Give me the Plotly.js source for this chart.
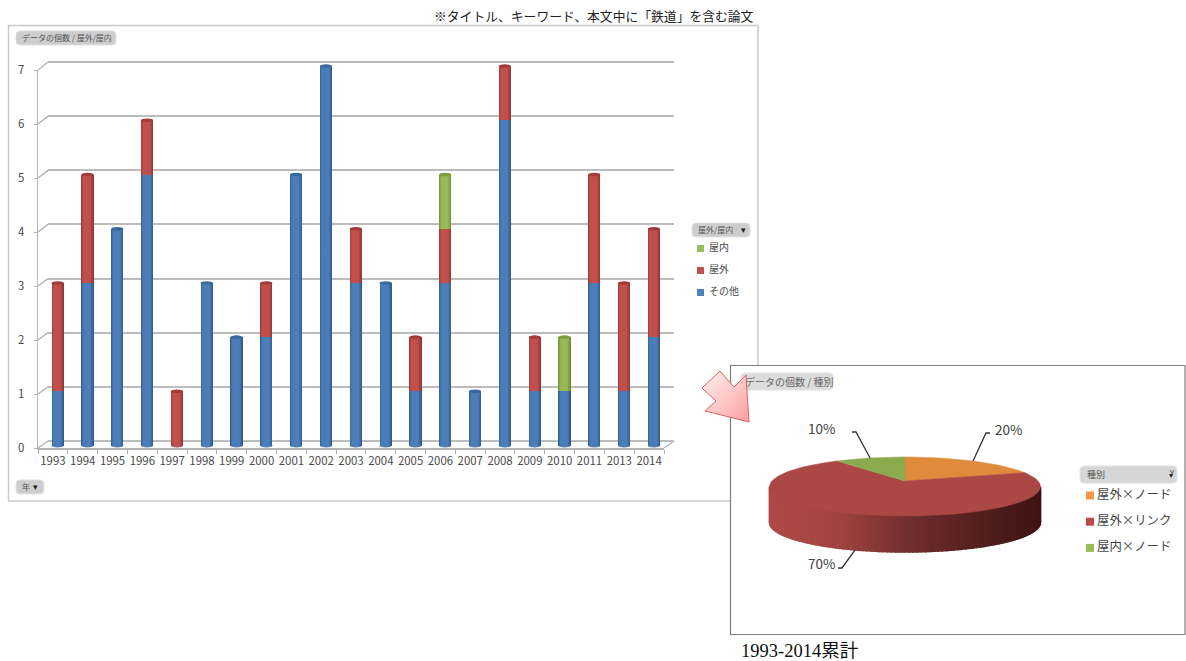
<!DOCTYPE html>
<html lang="ja">
<head>
<meta charset="utf-8">
<title>鉄道 論文</title>
<script src="https://cdn.plot.ly/plotly-3.0.1.min.js"></script>
<style>html,body{margin:0;padding:0;background:#fff}#chart{width:1186px;height:661px}</style>
</head>
<body>
<div id="chart"></div>
<script>
// Papers per year, split by setting
const years = ['1993','1994','1995','1996','1997','1998','1999','2000','2001','2002','2003','2004','2005','2006','2007','2008','2009','2010','2011','2013','2014'];
const other   = [1,3,4,5,0,3,2,2,5,7,3,3,1,3,1,6,1,1,3,1,2];
const outdoor = [2,2,0,1,1,0,0,1,0,0,1,0,1,1,0,1,1,0,2,2,2];
const indoor  = [0,0,0,0,0,0,0,0,0,0,0,0,0,1,0,0,0,1,0,0,0];
const barNames = ['その他','屋外','屋内'];
const yTicks = [0,1,2,3,4,5,6,7];

// Cumulative share by type, 1993-2014
const pieLabels = ['屋外×ノード','屋外×リンク','屋内×ノード'];
const pieShares = [20,70,10];

const W = 1186, H = 661;
const FONT = '"Noto Sans CJK JP","Noto Sans",sans-serif';
const TEXT = '#4a4a4a';
const AXIS = '#b4b4b4';
const barColors = ['#4f81bd', '#c0504d', '#9bbb59'];
const capColors = ['#39689f', '#a23c3a', '#7d9c40'];
const pieColors = ['#e08a3c', '#ab4744', '#8cab4e'];

const fx = x => x / W;
const fy = y => 1 - y / H;
const stacks = [other, outdoor, indoor];

// Axis frames, in pixels of the page
const wall  = {x0: 48,    x1: 674,   y0: 441,   unit: 54.14, pad: 0.1};
const bars  = {x0: 42.8,  x1: 668.8, y0: 445.5, unit: 54.2,  pad: 0.15};
const front = {x0: 38,    x1: 664,   y0: 448,   unit: 54};

const traces = [];

// Back wall carries the gridlines and is drawn first
traces.push({type:'scatter', mode:'markers', x:[years[0]], y:[0], xaxis:'x', yaxis:'y',
  marker:{opacity:0}, hoverinfo:'skip', showlegend:false});

stacks.forEach((vals, i) => traces.push({
  type:'bar', name:barNames[i], x:years, y:vals, xaxis:'x2', yaxis:'y2',
  marker:{color:barColors[i], line:{width:0}}, showlegend:false
}));

// Front axes carry the ticks and the tick labels
traces.push({type:'scatter', mode:'markers', x:years, y:years.map(() => 0), xaxis:'x3', yaxis:'y3',
  marker:{opacity:0}, hoverinfo:'skip', showlegend:false});

// 3D pie: a circle seen in perspective, apex at the origin of its axes
const apex = {x: 905, y: 481};
const RX = 133.1, RY = 28.5, K = 0.186, DEPTH = 36;
const rad = d => d * Math.PI / 180;
function project(deg) {
  const s = Math.sin(rad(deg)), c = Math.cos(rad(deg)), w = 1 + K * c;
  return [RX * s / w, RY * c / w];
}
function arc(a, b) {
  const pts = [], n = Math.max(2, Math.ceil(Math.abs(b - a) / 2));
  for (let i = 0; i <= n; i++) pts.push(project(a + (b - a) * i / n));
  return pts;
}
const pieAxes = {xaxis:'x4', yaxis:'y4', hoverinfo:'skip', showlegend:false};

// Rim: shaded strips along the front of the disc, light on the left
const rimStops = [[0,[176,74,71]],[0.25,[162,68,64]],[0.5,[114,47,46]],[0.75,[85,33,32]],[1,[63,20,19]]];
function rimColor(t) {
  for (let i = 1; i < rimStops.length; i++) {
    if (t <= rimStops[i][0]) {
      const [t0,c0] = rimStops[i-1], [t1,c1] = rimStops[i];
      const f = (t - t0) / (t1 - t0);
      return 'rgb(' + c0.map((v,j) => Math.round(v + (c1[j]-v)*f)).join(',') + ')';
    }
  }
  return 'rgb(63,20,19)';
}
const silhouette = Math.acos(-K) * 180 / Math.PI;
const rimEnd = 360 - silhouette;
const xMax = project(silhouette)[0];
for (let a = silhouette; a < rimEnd; a += 1.5) {
  const b = Math.min(a + 1.5, rimEnd);
  const p = project(a), q = project(b);
  const col = rimColor(((p[0] + q[0]) / 2 + xMax) / (2 * xMax));
  traces.push(Object.assign({type:'scatter', mode:'lines', fill:'toself', fillcolor:col,
    line:{color:col, width:1.5},
    x:[p[0], q[0], q[0], p[0], p[0]],
    y:[p[1], q[1], q[1]-DEPTH, p[1]-DEPTH, p[1]]}, pieAxes));
}

// Top face: one wedge per share, clockwise from twelve o'clock
const total = pieShares.reduce((s, v) => s + v, 0);
let start = 0;
const midAngles = [];
pieShares.forEach((v, i) => {
  const sweep = v / total * 360;
  const pts = arc(start, start + sweep);
  traces.push(Object.assign({type:'scatter', mode:'lines', fill:'toself', name:pieLabels[i],
    fillcolor:pieColors[i], line:{color:pieColors[i], width:0.5},
    x:[0, ...pts.map(p => p[0]), 0], y:[0, ...pts.map(p => p[1]), 0]}, pieAxes));
  midAngles.push(start + sweep / 2);
  start += sweep;
});

// Leader lines from each wedge's edge to its percentage label
const elbows = [[81,48],[-63,-87],[-49,49]];
const tails  = [4,-4,-4];
const labelGap = [18,-17,-31];
const labelRise = [4,5,4];
const annotations = [];
pieShares.forEach((v, i) => {
  const p = project(midAngles[i]);
  const y0 = Math.cos(rad(midAngles[i])) < 0 ? p[1] - DEPTH : p[1];
  const ex = elbows[i][0], ey = elbows[i][1];
  traces.push(Object.assign({type:'scatter', mode:'lines', line:{color:'#333', width:1.3},
    x:[p[0], ex, ex + tails[i]], y:[y0, ey, ey]}, pieAxes));
  annotations.push({xref:'x4', yref:'y4', x:ex + tails[i] + labelGap[i], y:ey + labelRise[i], text:v + '%',
    showarrow:false, xanchor:'center', yanchor:'middle', font:{family:FONT, size:13.5, color:'#404040'}});
});

// Helpers for the frame around the plots
function text(x, y, str, size, color, anchor, family) {
  annotations.push({xref:'paper', yref:'paper', x:fx(x), y:fy(y), text:str, showarrow:false,
    xanchor:anchor || 'left', yanchor:'middle', font:{family:family || FONT, size:size, color:color || TEXT}});
}
function rect(x0, y0, x1, y1, fill, line, lw, layer) {
  return {type:'rect', xref:'paper', yref:'paper', x0:fx(x0), x1:fx(x1), y0:fy(y0), y1:fy(y1),
    fillcolor:fill, line:{color:line, width:lw}, layer:layer || 'below'};
}
function button(x0, y0, x1, y1, fill) {
  const r = 4;
  const pts = (px, py) => `${fx(px)},${fy(py)}`;
  return {type:'path', xref:'paper', yref:'paper', layer:'below', fillcolor:fill,
    line:{color:'#e2e2e2', width:1},
    path:`M${pts(x0+r,y0)} L${pts(x1-r,y0)} Q${pts(x1,y0)} ${pts(x1,y0+r)} L${pts(x1,y1-r)} Q${pts(x1,y1)} ${pts(x1-r,y1)} L${pts(x0+r,y1)} Q${pts(x0,y1)} ${pts(x0,y1-r)} L${pts(x0,y0+r)} Q${pts(x0,y0)} ${pts(x0+r,y0)} Z`};
}
function segment(x0, y0, x1, y1, color, w) {
  return {type:'line', xref:'paper', yref:'paper', x0:fx(x0), x1:fx(x1), y0:fy(y0), y1:fy(y1),
    line:{color:color, width:w}, layer:'below'};
}

const shapes = [
  rect(8.5, 25.5, 758, 501, '#ffffff', '#c9c9c9', 1.5),
  rect(730.5, 365.5, 1185, 634.5, '#ffffff', '#7d7d7d', 1.2),
  button(16, 31, 116, 45, '#cdcdcd'),
  button(16, 480, 44, 494, '#cdcdcd'),
  button(692, 223, 750, 237, '#cdcdcd'),
  button(741, 373, 833, 390, '#dcdcdc'),
  button(1080, 466, 1177, 483, '#d6d6d6')
];

// Wall-to-front connectors at each tick, and the floor's right edge
yTicks.forEach(v => shapes.push(segment(front.x0, front.y0 - front.unit*v, wall.x0, wall.y0 - wall.unit*v, AXIS, 1.5)));
shapes.push(segment(front.x1, front.y0, wall.x1, wall.y0, AXIS, 1.5));

// Cylinder ends: a cap on every stack and a rounded foot under it
years.forEach((yr, i) => {
  const sum = other[i] + outdoor[i] + indoor[i];
  const topIdx = indoor[i] ? 2 : outdoor[i] ? 1 : 0;
  const baseIdx = other[i] ? 0 : 1;
  const ell = (level, color, h) => ({type:'circle', xref:'x2', yref:'y2',
    x0:i - 0.205, x1:i + 0.205, y0:level - h, y1:level + h, fillcolor:color, line:{width:0}, layer:'above'});
  shapes.push(ell(0, barColors[baseIdx], 0.035));
  shapes.push(ell(sum, capColors[topIdx], 0.032));
});

// Callout arrow between the two panels
const arrowPts = [[702,388],[720,371],[734,387],[746,375],[749,422],[705,411],[716,401]];
shapes.push({type:'path', xref:'paper', yref:'paper', layer:'above', fillcolor:'#ffc1c1',
  line:{color:'#d9635f', width:1},
  path:'M' + arrowPts.map(p => fx(p[0]) + ',' + fy(p[1])).join(' L') + ' Z'});

// Bar legend
[2,1,0].forEach((s, row) => {
  const y = 248.5 + row * 22;
  shapes.push(rect(697, y - 3.5, 704, y + 3.5, barColors[s], barColors[s], 0));
  text(707, y - 2, barNames[s], 10, TEXT);
});
// Pie legend
const pieLegendColors = ['#f79646', '#be4b48', '#9bbb59'];
pieLabels.forEach((name, i) => {
  const y = 495.5 + i * 26.2;
  shapes.push(rect(1086, y - 4, 1094, y + 4, pieLegendColors[i], pieLegendColors[i], 0));
  text(1095, y - 2, name, 12.4, '#444');
});

// Headings and field buttons
text(756, 15.5, '※タイトル、キーワード、本文中に「鉄道」を含む論文', 12.8, '#222', 'right');
text(20, 37.5, 'データの個数 / 屋外/屋内', 8, '#555');
text(20, 486.5, '年', 8, '#555');
text(31, 486.5, '▾', 9, '#222');
text(696, 229.5, '屋外/屋内', 8, '#555');
text(739, 229.5, '▾', 9, '#222');
text(743, 381, 'データの個数 / 種別', 10, '#666');
text(1085, 474.5, '種別', 9, '#555');
text(1167, 474, '▾', 8, '#222');
text(1172, 472, 'Y', 8, '#444', 'center');
text(738.5, 651, '1993-2014累計', 18.5, '#111', 'left', '"Liberation Serif","Noto Sans CJK JP",serif');

const hiddenAxis = {visible:false, fixedrange:true};
const layout = {
  width:W, height:H, margin:{l:0,r:0,t:0,b:0}, paper_bgcolor:'#ffffff', plot_bgcolor:'rgba(0,0,0,0)',
  barmode:'stack', bargap:0.59, hovermode:false, showlegend:false,
  font:{family:FONT, color:TEXT},
  shapes, annotations,
  xaxis:{type:'category', categoryorder:'array', categoryarray:years, domain:[fx(wall.x0), fx(wall.x1)], range:[-0.5,20.5],
    showgrid:false, showline:false, showticklabels:false, ticks:'', zeroline:false, fixedrange:true},
  yaxis:{domain:[fy(wall.y0 + wall.pad*wall.unit), fy(wall.y0 - (7+wall.pad)*wall.unit)], range:[-wall.pad, 7+wall.pad], tickvals:yTicks, showgrid:true,
    gridcolor:'#bcbcbc', gridwidth:2, zeroline:false, showline:false, showticklabels:false, ticks:'', fixedrange:true},
  xaxis2:Object.assign({}, hiddenAxis, {type:'category', categoryorder:'array', categoryarray:years,
    domain:[fx(bars.x0), fx(bars.x1)], range:[-0.5,20.5], anchor:'y2'}),
  yaxis2:Object.assign({}, hiddenAxis, {domain:[fy(bars.y0 + bars.pad*bars.unit), fy(bars.y0 - (7+bars.pad)*bars.unit)],
    range:[-bars.pad, 7+bars.pad], anchor:'x2'}),
  xaxis3:{type:'category', categoryorder:'array', categoryarray:years, domain:[fx(front.x0), fx(front.x1)], range:[-0.5,20.5],
    anchor:'y3', showline:true, linecolor:AXIS, linewidth:1.5, showgrid:false, zeroline:false, tickson:'boundaries',
    ticks:'outside', ticklen:4, tickcolor:AXIS, tickwidth:1, tickfont:{family:FONT, size:11.4, color:TEXT}, tickangle:0,
    ticklabelstandoff:2, fixedrange:true},
  yaxis3:{domain:[fy(front.y0), fy(front.y0 - front.unit*7)], range:[0,7], anchor:'x3', tickvals:yTicks,
    showline:true, linecolor:AXIS, linewidth:1.5, showgrid:false, zeroline:false, ticks:'outside', ticklen:3,
    tickcolor:AXIS, tickwidth:1, tickfont:{family:FONT, size:11.4, color:TEXT}, ticklabelstandoff:7, fixedrange:true},
  xaxis4:Object.assign({}, hiddenAxis, {domain:[fx(731), fx(1185)], range:[731-apex.x, 1185-apex.x], anchor:'y4'}),
  yaxis4:Object.assign({}, hiddenAxis, {domain:[fy(634), fy(366)], range:[apex.y-634, apex.y-366], anchor:'x4'})
};

Plotly.newPlot('chart', traces, layout, {displayModeBar:false, staticPlot:true}).then(gd => {
  // Round shading on the cylinders and the soft fill of the callout arrow
  const svg = gd.querySelector('svg.main-svg');
  const defs = svg.querySelector('defs');
  const NS = 'http://www.w3.org/2000/svg';
  function gradient(id, stops, x2, y2) {
    const g = document.createElementNS(NS, 'linearGradient');
    g.setAttribute('id', id);
    g.setAttribute('x1','0'); g.setAttribute('y1','0');
    g.setAttribute('x2',x2); g.setAttribute('y2',y2);
    stops.forEach(([o,c]) => {
      const s = document.createElementNS(NS, 'stop');
      s.setAttribute('offset', o); s.setAttribute('stop-color', c);
      g.appendChild(s);
    });
    defs.appendChild(g);
  }
  const shade = {
    'rgb(79, 129, 189)': ['cylBlue',  [[0,'#34618f'],[0.18,'#4a7db8'],[0.7,'#4c7fba'],[1,'#31598a']]],
    'rgb(192, 80, 77)':  ['cylRed',   [[0,'#983c3a'],[0.18,'#c24f4c'],[0.7,'#c0504d'],[1,'#8f3533']]],
    'rgb(155, 187, 89)': ['cylGreen', [[0,'#759238'],[0.18,'#97b556'],[0.7,'#9bbb59'],[1,'#6f8a35']]]
  };
  Object.values(shade).forEach(([id, stops]) => gradient(id, stops, '1', '0'));
  gradient('arrowFill', [[0,'#fff2f2'],[1,'#ff9f9f']], '1', '1');
  const paint = p => {
    const fill = getComputedStyle(p).fill;
    if (shade[fill]) p.style.fill = 'url(#' + shade[fill][0] + ')';
    if (fill === 'rgb(255, 193, 193)') p.style.fill = 'url(#arrowFill)';
  };
  gd.querySelectorAll('.barlayer .point path').forEach(paint);
  gd.querySelectorAll('.layer-above .shapelayer path').forEach(paint);
});
</script>
</body>
</html>
